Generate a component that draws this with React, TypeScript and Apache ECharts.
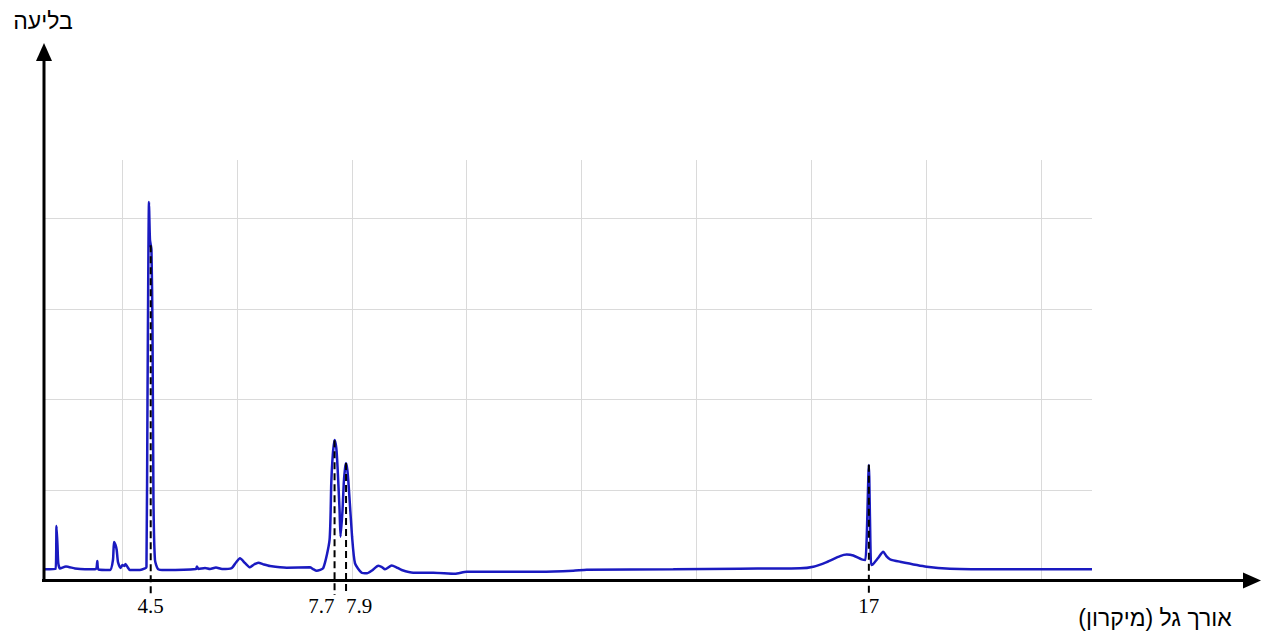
import React, { useEffect, useRef } from 'react';
import * as echarts from 'echarts';

// Spectrum (wavelength in micron, absorbance in arbitrary units)
const wavelength = [
  2.66, 2.842, 2.86, 2.877, 2.891, 2.921, 3.025, 3.182, 3.356, 3.547, 3.57, 3.591, 3.791, 3.843, 3.861, 3.887,
  3.908, 3.93, 3.974, 4.009, 4.044, 4.061, 4.096, 4.139, 4.313, 4.4, 4.426, 4.444, 4.47, 4.487, 4.513, 4.531,
  4.548, 4.574, 4.627, 4.749, 5.288, 5.305, 5.332, 5.445, 5.532, 5.636, 5.741, 5.909, 5.984, 6.054, 6.141, 6.228,
  6.298, 6.372, 6.471, 6.576, 6.867, 7.272, 7.325, 7.389, 7.504,
  7.613, 7.643, 7.669, 7.7, 7.73, 7.752, 7.787, 7.804,
  7.839, 7.86, 7.883, 7.9, 7.923, 7.947, 8.005,
  8.056, 8.172, 8.265, 8.352, 8.461, 8.526, 8.578, 8.694, 8.769, 8.869, 9.07, 9.419, 9.796, 10.0, 11.276, 11.856,
  12.089, 13.596, 14.757, 15.802, 16.033, 16.266, 16.498, 16.615, 16.729, 16.875,
  16.94, 17.0, 17.02, 17.04, 17.07, 17.16, 17.25, 17.305, 17.37, 17.542, 18.007, 18.413, 19.283, 20.884,
];
const absorbance = [
  0.129, 0.132, 0.606, 0.397, 0.198, 0.138, 0.16, 0.138, 0.129, 0.132, 0.22, 0.127, 0.121, 0.231, 0.43, 0.397,
  0.342, 0.209, 0.143, 0.176, 0.165, 0.187, 0.154, 0.121, 0.121, 0.138, 0.154, 1.99, 4.176, 3.76, 3.65, 2.77,
  0.89, 0.231, 0.132, 0.121, 0.132, 0.16, 0.132, 0.143, 0.132, 0.149, 0.132, 0.143, 0.204, 0.25, 0.198, 0.151,
  0.182, 0.202, 0.182, 0.165, 0.147, 0.151, 0.132, 0.113, 0.143,
  0.452, 1.08, 1.388, 1.554, 1.466, 1.256, 0.782, 0.488,
  0.782, 1.077, 1.245, 1.297, 1.223, 1.039, 0.488,
  0.195, 0.091, 0.085, 0.116, 0.169, 0.154, 0.129, 0.171, 0.154, 0.121, 0.091, 0.091, 0.08, 0.102, 0.102, 0.113,
  0.125, 0.129, 0.136, 0.14, 0.158, 0.209, 0.275, 0.292, 0.281, 0.239,
  0.231, 1.278, 0.672, 0.176, 0.184, 0.253, 0.323, 0.275, 0.239, 0.213, 0.158, 0.136, 0.129, 0.129,
];

// Annotated peaks
const markWavelength = [4.5, 7.7, 7.9, 17];
const markTop = [3.7, 1.55, 1.3, 1.28];
const markLabel = ['4.5', '7.7', '7.9', '17'];
const markAlign = ['center', 'right', 'left', 'center'];
const markBottom = -0.154;

// Grid lines
const gridTicksX = [4, 6, 8, 10, 12, 14, 16, 18, 20];

const yTitle = 'בליעה';
const xTitle = 'אורך גל (מיקרון)';

export default function App() {
  const ref = useRef<HTMLDivElement>(null);
  useEffect(() => {
    const chart = echarts.init(ref.current!, null, { renderer: 'svg' });
    const series: any[] = [
      {
        type: 'line',
        data: wavelength.map((w, i) => [w, absorbance[i]]),
        showSymbol: false,
        symbol: 'none',
        smooth: 0.2,
        lineStyle: { color: '#1a1ac0', width: 2.5 },
        z: 2,
      },
    ];
    markWavelength.forEach((w, i) => {
      series.push({
        type: 'line',
        data: [[w, markTop[i]], [w, markBottom]],
        symbol: 'none',
        clip: false,
        lineStyle: { color: '#000', width: 2, type: [7, 4] },
        z: 3,
      });
    });
    series.push({
      type: 'scatter',
      clip: false,
      symbolSize: 0,
      itemStyle: { color: 'rgba(0,0,0,0)' },
      data: markWavelength.map((w, i) => ({
        value: [w, markBottom],
        label: { align: markAlign[i], formatter: markLabel[i] },
      })),
      label: {
        show: true,
        position: 'bottom',
        distance: 1,
        color: '#000',
        opacity: 1,
        fontSize: 21,
        fontFamily: '"Liberation Serif", "Times New Roman", serif',
      },
      z: 4,
    });

    chart.setOption({
      animation: false,
      backgroundColor: '#fff',
      grid: { left: 45, right: 177, top: 160, bottom: 51 },
      xAxis: {
        type: 'value',
        min: 2.66,
        max: 20.884,
        axisLine: { show: false },
        axisTick: { show: false, customValues: gridTicksX },
        axisLabel: { show: false },
        splitLine: {
          show: true,
          lineStyle: { color: '#dadada', width: 1 },
        },
      },
      yAxis: {
        type: 'value',
        min: 0,
        max: 4.64,
        interval: 1,
        axisLine: { show: false },
        axisTick: { show: false },
        axisLabel: { show: false },
        splitLine: {
          show: true,
          showMinLine: false,
          showMaxLine: false,
          lineStyle: { color: '#dadada', width: 1 },
        },
      },
      series,
      graphic: [
        { type: 'line', shape: { x1: 44, y1: 581, x2: 44, y2: 58 }, style: { stroke: '#000', lineWidth: 3 }, z: 10 },
        { type: 'polygon', shape: { points: [[44, 43], [36, 61], [52, 61]] }, style: { fill: '#000' }, z: 10 },
        { type: 'line', shape: { x1: 42, y1: 580.5, x2: 1246, y2: 580.5 }, style: { stroke: '#000', lineWidth: 3 }, z: 10 },
        { type: 'polygon', shape: { points: [[1261, 580.5], [1243, 572.5], [1243, 588.5]] }, style: { fill: '#000' }, z: 10 },
        {
          type: 'text', x: 43, y: 21, z: 10,
          style: { text: yTitle, fill: '#000', font: '23px "Liberation Sans", Arial, sans-serif', align: 'center', verticalAlign: 'middle' },
        },
        {
          type: 'text', x: 1155, y: 618, z: 10,
          style: { text: '\u200F' + xTitle + '\u200F', fill: '#000', font: '23px "Liberation Sans", Arial, sans-serif', align: 'center', verticalAlign: 'middle' },
        },
      ],
    });
    return () => chart.dispose();
  }, []);
  return <div ref={ref} style={{ position: 'absolute', left: 0, top: 0, width: 1269, height: 632 }} />;
}
